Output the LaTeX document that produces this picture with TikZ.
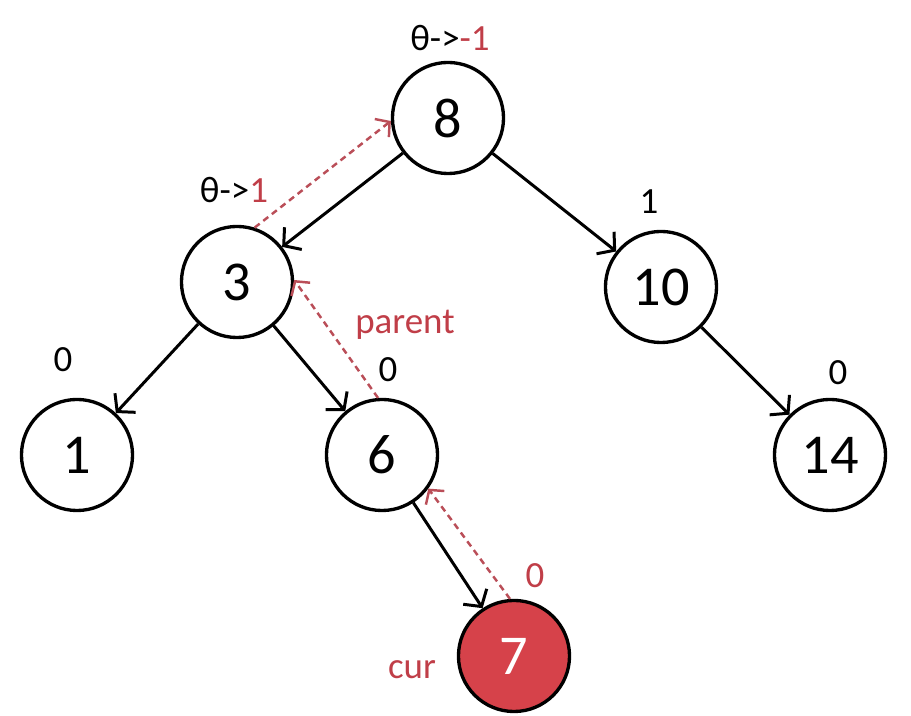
\documentclass[tikz,border=0pt]{standalone}
\usepackage{fontspec}
\setmainfont{Carlito}
\usetikzlibrary{arrows.meta}
\definecolor{redtxt}{RGB}{192,62,72}
\definecolor{redfill}{RGB}{214,66,74}
\definecolor{reddash}{RGB}{186,78,88}

\begin{document}
\begin{tikzpicture}[
        x=0.01cm, y=-0.01cm,
        vertex/.style={circle, draw, line width=0.95pt, fill=white, inner sep=0pt, minimum size=1.11cm, font=\fontsize{16}{18}\selectfont},
        lbl/.style={font=\fontsize{10.5}{12}\selectfont, inner sep=1pt},
        edge/.style={-{Straight Barb[length=3.4pt, width=8pt]}, line width=0.85pt},
        back/.style={-{Straight Barb[length=2.8pt, width=6.5pt]}, line width=0.7pt, reddash, dash pattern=on 1.8pt off 1.3pt}
    ]
        \useasboundingbox (0,0) rectangle (911,716);

        % Tree nodes
        \node[vertex] (n8) at (448,118) {8};
        \node[vertex] (n3) at (237,282) {3};
        \node[vertex] (n10) at (661,287) {10};
        \node[vertex] (n1) at (77,455) {1};
        \node[vertex] (n6) at (382,455) {6};
        \node[vertex] (n14) at (830,455) {14};
        \node[vertex, fill=redfill, text=white] (n7) at (514,656) {7};

        % Child links
        \draw[edge] (n8) -- (n3);
        \draw[edge] (n8) -- (n10);
        \draw[edge] (n3) -- (n1);
        \draw[edge] (n3) -- (n6);
        \draw[edge] (n10) -- (n14);
        \draw[edge] (n6) -- (n7);

        % Walk back up through parent
        \draw[back] (n7.94) -- (n6.-36);
        \draw[back] (n6.94) -- (n3.2);
        \draw[back] (n3.72) -- (n8.183);

        % Balance factors
        \node[lbl] (b8) at (450,38) {θ->\textcolor{redtxt}{-1}};
        \node[lbl] (b3) at (234,190) {θ->\textcolor{redtxt}{1}};
        \node[lbl] (b10) at (649,202) {1};
        \node[lbl] (b1) at (63,360) {0};
        \node[lbl] (b6) at (388,370) {0};
        \node[lbl] (b14) at (838,373) {0};
        \node[lbl, text=redtxt] (b7) at (535,576) {0};

        % Pointers
        \node[lbl, text=redtxt] (par) at (405,325) {parent};
        \node[lbl, text=redtxt] (cur) at (412,670) {cur};

    \end{tikzpicture}
\end{document}
